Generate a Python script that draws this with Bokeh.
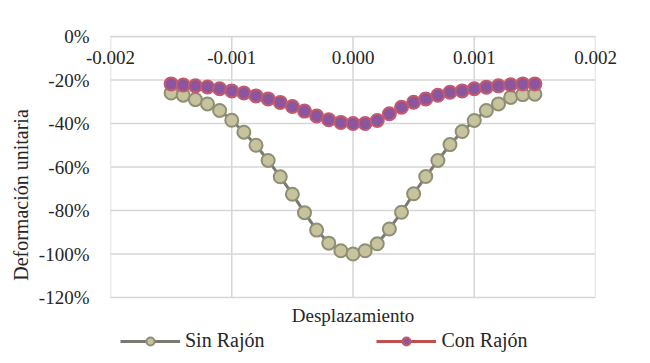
from bokeh.plotting import figure
from bokeh.models import (LinearAxis, FixedTicker, NumeralTickFormatter, Range1d,
                          Legend, LegendItem, ColumnDataSource, Label)
from bokeh.embed import file_html
from bokeh.resources import INLINE

# ---- data ----
desplazamiento = [-0.0015, -0.0014, -0.0013, -0.0012, -0.0011, -0.0010, -0.0009, -0.0008,
                  -0.0007, -0.0006, -0.0005, -0.0004, -0.0003, -0.0002, -0.0001, 0.0,
                  0.0001, 0.0002, 0.0003, 0.0004, 0.0005, 0.0006, 0.0007, 0.0008,
                  0.0009, 0.0010, 0.0011, 0.0012, 0.0013, 0.0014, 0.0015]
sin_rajon = [-0.26, -0.27, -0.29, -0.31, -0.34, -0.385, -0.44, -0.50,
             -0.57, -0.645, -0.725, -0.81, -0.89, -0.95, -0.985, -1.00,
             -0.985, -0.953, -0.885, -0.808, -0.723, -0.644, -0.57, -0.497,
             -0.437, -0.386, -0.34, -0.31, -0.28, -0.267, -0.265]
con_rajon = [-0.218, -0.223, -0.227, -0.232, -0.24, -0.25, -0.26, -0.273,
             -0.287, -0.303, -0.322, -0.343, -0.365, -0.383, -0.395, -0.40,
             -0.40, -0.386, -0.355, -0.325, -0.302, -0.287, -0.27, -0.256,
             -0.25, -0.24, -0.233, -0.227, -0.222, -0.218, -0.218]
x_ticks = [-0.002, -0.001, 0.0, 0.001, 0.002]
y_ticks = [0.0, -0.2, -0.4, -0.6, -0.8, -1.0, -1.2]
serie_labels = ["Sin Rajón", "Con Rajón"]
x_title = "Desplazamiento"
y_title = "Deformación unitaria"

FONT = "Liberation Serif"
TXT = "#262626"
GRID = "#d6d6d6"

# ---- layout geometry (pixels) ----
W, H = 646, 360
PLOT_TOP, PLOT_BOTTOM, FRAME_BOTTOM = 36, 297, 353
y_lo = y_ticks[-1] * (FRAME_BOTTOM - PLOT_TOP) / (PLOT_BOTTOM - PLOT_TOP)
y_xtitle = y_ticks[-1] * (315 - PLOT_TOP) / (PLOT_BOTTOM - PLOT_TOP)

p = figure(width=W, height=H, output_backend="svg", toolbar_location=None,
           x_range=Range1d(x_ticks[0], x_ticks[-1]), y_range=Range1d(y_lo, y_ticks[0]),
           x_axis_location=None, y_axis_location=None,
           min_border_left=110, min_border_right=W - 595, min_border_top=PLOT_TOP,
           min_border_bottom=H - FRAME_BOTTOM)
p.background_fill_color = "white"
p.border_fill_color = "white"
p.outline_line_color = None
p.grid.visible = False

# y axis
yax = LinearAxis(ticker=FixedTicker(ticks=y_ticks), formatter=NumeralTickFormatter(format="0%"),
                 axis_label=y_title)
yax.axis_line_color = None
yax.major_tick_line_color = None
yax.minor_tick_line_color = None
yax.major_label_standoff = 15
yax.major_label_text_font = FONT
yax.major_label_text_font_size = "19px"
yax.major_label_text_color = TXT
yax.axis_label_standoff = 4
yax.axis_label_text_font = FONT
yax.axis_label_text_font_size = "20px"
yax.axis_label_text_font_style = "normal"
yax.axis_label_text_color = TXT
p.add_layout(yax, "left")

# x axis with labels just below the top line
xax = LinearAxis(ticker=FixedTicker(ticks=x_ticks), formatter=NumeralTickFormatter(format="0.000"))
xax.axis_line_color = GRID
xax.axis_line_width = 1.5
xax.major_tick_line_color = None
xax.minor_tick_line_color = None
xax.major_label_standoff = -33
xax.major_label_text_font = FONT
xax.major_label_text_font_size = "19px"
xax.major_label_text_color = TXT
p.add_layout(xax, "above")

# grid lines limited to the plotting box
n_x, n_y = len(x_ticks), len(y_ticks)
p.segment(x0=x_ticks, y0=[y_ticks[0]] * n_x, x1=x_ticks, y1=[y_ticks[-1]] * n_x,
          line_color=GRID, line_width=1.5)
p.segment(x0=[x_ticks[0]] * n_y, y0=y_ticks, x1=[x_ticks[-1]] * n_y, y1=y_ticks,
          line_color=GRID, line_width=1.5)

src = ColumnDataSource(dict(x=desplazamiento, s=sin_rajon, c=con_rajon))

l1 = p.line("x", "s", source=src, line_color="#7a7a72", line_width=3)
m1 = p.scatter("x", "s", source=src, size=13, fill_color="#c6c39d", line_color="#8e8f74", line_width=2)
l2 = p.line("x", "c", source=src, line_color="#c0504d", line_width=3)
m2 = p.scatter("x", "c", source=src, size=13, fill_color="#8b569d", line_color="#c45a6c", line_width=2)

# x axis title
p.add_layout(Label(x=(x_ticks[0] + x_ticks[-1]) / 2, y=y_xtitle, text=x_title,
                   text_align="center", text_baseline="middle", text_font=FONT,
                   text_font_size="19px", text_color=TXT))

legend = Legend(items=[LegendItem(label=serie_labels[0], renderers=[l1, m1]),
                       LegendItem(label=serie_labels[1], renderers=[l2, m2])],
                orientation="horizontal", location=(10, 1))
legend.glyph_width = 60
legend.glyph_height = 20
legend.label_height = 20
legend.label_standoff = 5
legend.spacing = 112
legend.padding = 0
legend.margin = 0
legend.border_line_color = None
legend.background_fill_alpha = 0
legend.label_text_font = FONT
legend.label_text_font_size = "20px"
legend.label_text_color = TXT
p.add_layout(legend, "center")

open("out.html", "w").write(file_html(p, INLINE))
